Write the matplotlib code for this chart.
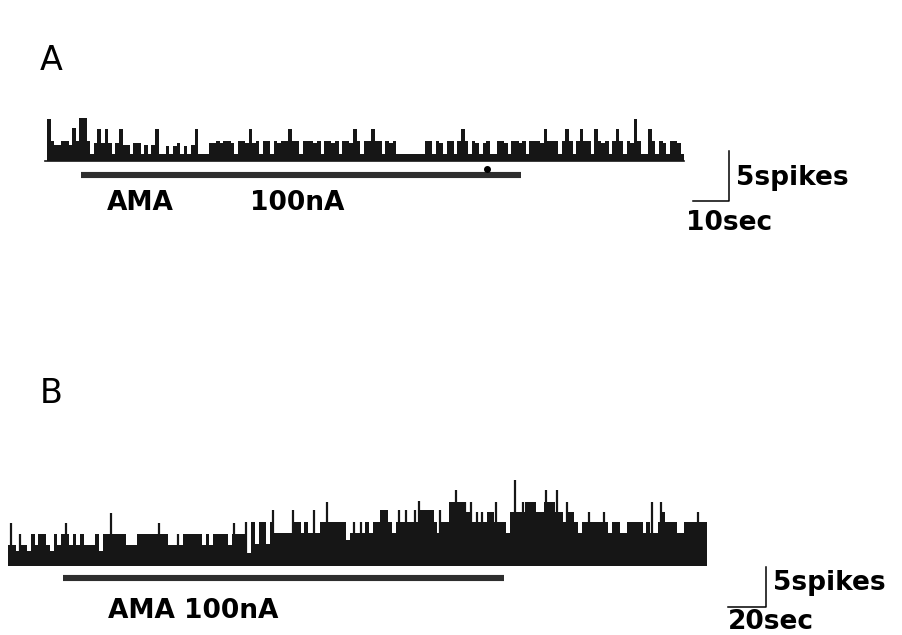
import matplotlib.pyplot as plt
import numpy as np

# panel A: 1 s bins, spikes per bin
bin_a = 1.0
rate_a = [
    4.2, 2.0, 1.6, 1.6, 2.0, 2.0, 1.6, 3.3, 2.0, 4.3,
    4.3, 2.0, 0.7, 1.8, 3.2, 1.8, 3.2, 1.8, 0.7, 1.8,
    3.2, 1.6, 1.6, 0.7, 1.8, 1.8, 0.7, 1.6, 0.7, 1.6,
    3.2, 0.7, 0.7, 1.5, 0.7, 1.5, 1.8, 0.7, 1.5, 0.7,
    1.6, 3.2, 0.7, 0.7, 0.7, 1.8, 1.8, 2.0, 1.8, 2.0,
    2.0, 1.8, 0.7, 2.0, 2.0, 1.8, 3.2, 1.8, 2.0, 0.7,
    2.0, 2.0, 0.7, 2.0, 1.8, 2.0, 2.0, 3.2, 2.0, 2.0,
    0.7, 2.0, 2.0, 2.0, 1.8, 2.0, 0.7, 2.0, 2.0, 1.8,
    2.0, 0.7, 2.0, 2.0, 1.8, 3.2, 2.0, 0.7, 2.0, 2.0,
    3.2, 2.0, 2.0, 0.7, 2.0, 1.8, 2.0, 0.7, 0.7, 0.7,
    0.7, 0.7, 0.7, 0.7, 0.7, 2.0, 2.0, 0.7, 2.0, 1.8,
    0.7, 2.0, 2.0, 0.7, 2.0, 3.2, 2.0, 0.7, 2.0, 1.8,
    0.7, 1.8, 2.0, 0.7, 0.7, 2.0, 2.0, 1.8, 0.7, 2.0,
    2.0, 1.8, 2.0, 0.7, 2.0, 2.0, 2.0, 1.8, 3.2, 2.0,
    2.0, 2.0, 0.7, 2.0, 3.2, 2.0, 0.7, 2.0, 3.2, 2.0,
    2.0, 0.7, 3.2, 2.0, 1.8, 2.0, 0.7, 2.0, 3.2, 2.0,
    0.7, 2.0, 1.8, 4.2, 2.0, 0.7, 0.7, 3.2, 2.0, 0.7,
    2.0, 1.8, 0.7, 2.0, 2.0, 1.8, 0.7,
]
stim_a = (9.4, 131.7)
mark_a = 122.2

# panel B: 2 s bins plus single narrow peaks
bin_b = 2.0
rate_b = [
    2.6, 2.6, 1.9, 2.6, 2.6, 1.9, 4.0, 2.6, 4.0, 4.0,
    2.6, 1.9, 4.0, 2.6, 4.0, 4.0, 2.6, 4.0, 2.6, 4.0,
    2.6, 2.6, 2.6, 4.0, 1.9, 4.0, 4.0, 4.0, 4.0, 4.0,
    4.0, 2.6, 2.6, 2.6, 4.0, 4.0, 4.0, 4.0, 4.0, 4.0,
    4.0, 4.0, 2.6, 2.6, 2.6, 2.6, 4.0, 4.0, 4.0, 4.0,
    4.0, 2.6, 4.0, 2.6, 4.0, 4.0, 4.0, 4.0, 2.6, 4.0,
    4.0, 4.0, 4.0, 1.6, 5.5, 2.7, 5.5, 5.5, 2.7, 5.5,
    4.1, 4.1, 4.1, 4.1, 4.1, 5.5, 5.5, 4.1, 5.5, 4.1,
    4.1, 4.1, 5.5, 5.5, 5.5, 5.5, 5.5, 5.5, 5.5, 3.2,
    4.1, 4.1, 4.1, 4.1, 5.5, 4.1, 5.5, 5.5, 7.0, 7.0,
    5.5, 4.1, 5.5, 5.5, 5.5, 5.5, 5.5, 5.5, 7.0, 7.0,
    7.0, 7.0, 5.5, 4.1, 5.5, 5.5, 8.0, 8.0, 8.0, 8.0,
    6.8, 6.8, 5.5, 5.5, 5.5, 5.5, 6.8, 6.8, 5.5, 5.5,
    5.5, 4.1, 6.8, 6.8, 6.8, 6.8, 8.0, 8.0, 8.0, 6.8,
    6.8, 8.0, 8.0, 8.0, 6.8, 6.8, 5.5, 6.8, 6.8, 5.5,
    4.1, 5.5, 5.5, 5.5, 5.5, 5.5, 5.5, 5.5, 4.1, 5.5,
    5.5, 4.1, 4.1, 5.5, 5.5, 5.5, 5.5, 4.1, 5.5, 4.1,
    4.1, 5.5, 6.8, 5.5, 5.5, 5.5, 4.1, 4.1, 5.5, 5.5,
    5.5, 5.5, 5.5, 5.5,
]
peak_t_b = [1.6, 6.3, 30.5, 54.2, 79.5, 89.5, 119.0, 125.5, 139.5, 150.0,
            161.0, 168.0, 182.0, 186.0, 206.0, 209.5, 214.0, 216.5, 227.5, 236.0,
            240.5, 243.7, 246.8, 249.5, 257.0, 267.0, 271.3, 283.0, 288.7, 294.0,
            306.0, 313.7, 338.7, 343.7, 363.0]
peak_h_b = [5.4, 4.0, 5.4, 6.6, 5.4, 4.0, 5.4, 5.5, 7.0, 7.0,
            7.0, 8.0, 5.5, 5.5, 7.0, 7.0, 7.0, 8.1, 7.0, 9.5,
            8.0, 8.0, 6.8, 6.8, 8.0, 10.75, 8.0, 9.5, 9.5, 8.0,
            6.8, 6.8, 8.0, 8.0, 6.8]
stim_b = (28.9, 261.1)

ink = "#161616"
bar_ink = "#2e2e2e"
font = dict(family="DejaVu Sans", fontweight="bold", fontsize=19, color="k")

fig = plt.figure(figsize=(9.02, 6.35), dpi=100)
ax_a = fig.add_axes([0, 0, 1, 1])
ax_b = fig.add_axes([0, 0, 1, 1])
for ax in (ax_a, ax_b):
    ax.set_axis_off()
    ax.patch.set_alpha(0)

# A
ax_a.set_xlim(-13.06, 237.5)
ax_a.set_ylim(-47.4, 16.1)
edges_a = np.arange(len(rate_a) + 1) * bin_a
ax_a.stairs(rate_a, edges_a, fill=True, color=ink, baseline=0)
ax_a.plot([-0.6, edges_a[-1]], [0, 0], color=ink, lw=1.2)
ax_a.plot(stim_a, [-1.4, -1.4], color=bar_ink, lw=4.4, solid_capstyle="butt")
ax_a.plot(mark_a, -0.75, "o", ms=4, color="k")
ax_a.plot([179.4, 189.4, 189.4], [-4.0, -4.0, 1.0], color="k", lw=1.1)
ax_a.text(191.4, -2.4, "5spikes", **font)
ax_a.text(177.6, -6.9, "10sec", **font)
ax_a.text(16.7, -4.9, "AMA", **font)
ax_a.text(56.4, -4.9, "100nA", **font)
ax_a.text(-1.9, 9.1, "A", family="DejaVu Sans", fontsize=24, color="k")

# B
ax_b.set_xlim(-4.21, 470.5)
ax_b.set_ylim(-8.625, 70.75)
edges_b = np.arange(len(rate_b) + 1) * bin_b
ax_b.stairs(rate_b, edges_b, fill=True, color=ink, baseline=0)
ax_b.vlines(peak_t_b, 0, peak_h_b, color=ink, lw=1.6)
ax_b.plot(stim_b, [-1.5, -1.5], color=bar_ink, lw=4.4, solid_capstyle="butt")
ax_b.plot([379.0, 399.0, 399.0], [-5.1, -5.1, -0.1], color="k", lw=1.1)
ax_b.text(402.6, -3.0, "5spikes", **font)
ax_b.text(378.9, -7.85, "20sec", **font)
ax_b.text(52.6, -6.5, "AMA 100nA", **font)
ax_b.text(16.8, 20.4, "B", family="DejaVu Sans", fontsize=24, color="k")

fig.savefig("out.png", dpi=100)
